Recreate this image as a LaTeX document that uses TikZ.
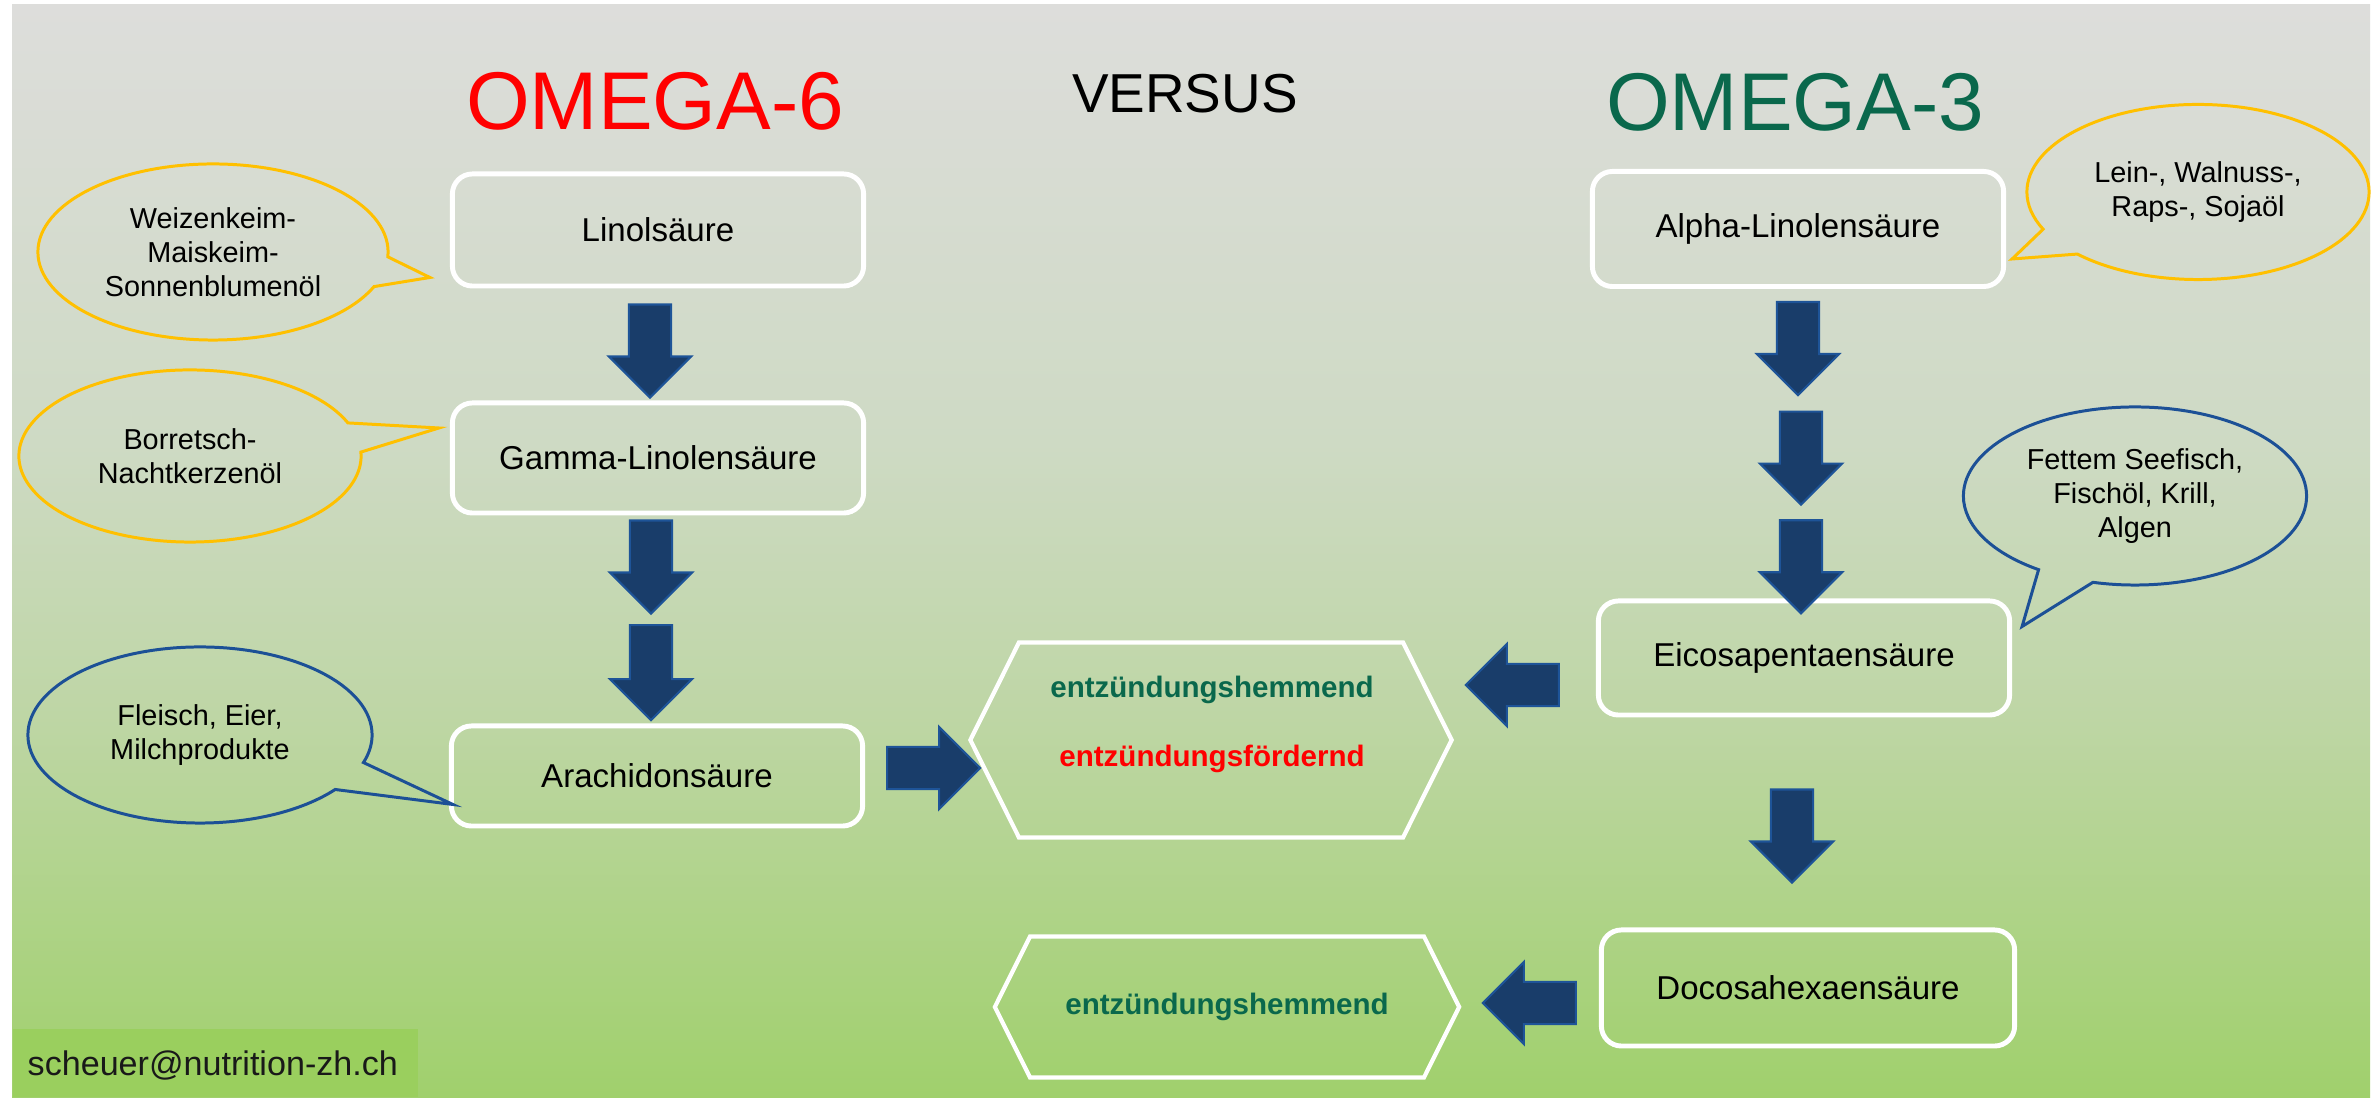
\documentclass[tikz,border=0pt]{standalone}
\usepackage{fontspec}
\setmainfont{Liberation Sans}
\usetikzlibrary{shapes}

\definecolor{omegared}{RGB}{255,0,0}
\definecolor{omegagreen}{RGB}{10,104,76}
\definecolor{arrowfill}{RGB}{25,61,106}
\definecolor{arrowrim}{RGB}{30,84,152}
\definecolor{bubbleyellow}{RGB}{255,192,0}
\definecolor{bubbleblue}{RGB}{28,80,150}
\definecolor{mailgreen}{RGB}{154,207,94}
\pgfdeclareverticalshading{slidebg}{100bp}{rgb(0bp)=(0.627,0.816,0.424); rgb(25bp)=(0.627,0.816,0.424); rgb(42.5bp)=(0.745,0.839,0.647); rgb(55bp)=(0.808,0.855,0.769); rgb(75bp)=(0.867,0.867,0.859); rgb(100bp)=(0.867,0.867,0.859)}

\tikzset{
    acid/.style={rectangle,draw=white,line width=1.4pt,rounded corners=0.2cm,minimum width=4.11cm,minimum height=1.12cm,font=\fontsize{9.4}{11}\selectfont},
    headline/.style={anchor=base,inner sep=0pt,font=\fontsize{23.3}{28}\selectfont},
    source/.style={ellipse callout,line width=0.85pt,inner sep=0pt,minimum width=3.44cm,minimum height=1.76cm,callout pointer arc=20,align=center,font=\fontsize{8.2}{9.7}\selectfont},
    plant/.style={source,draw=bubbleyellow},
    animal/.style={source,draw=bubbleblue},
    blockarrow/.style={single arrow,draw=arrowrim,fill=arrowfill,line width=0.6pt,minimum height=0.93cm,inner sep=0.2cm,single arrow head extend=0.2cm,single arrow tip angle=90,anchor=tail},
    effect/.style={signal,signal to=west and east,signal pointer angle=127,draw=white,line width=1.2pt,inner sep=0pt},
    effecttext/.style={anchor=base,inner sep=0pt,font=\bfseries\fontsize{8.4}{10}\selectfont},
    mailbox/.style={rectangle,fill=mailgreen,anchor=south west,minimum height=0.68cm,text width=3.75cm,align=left,inner xsep=0.15cm,inner ysep=0pt,text depth=0pt,font=\fontsize{9.7}{12}\selectfont,text=black!90},
}

\begin{document}
\begin{tikzpicture}[x=0.01cm,y=-0.01cm]
\useasboundingbox (0,0) rectangle (2374,1098);
\fill[white] (0,0) rectangle (2374,1098);
\shade[shading=slidebg] (12,5) rectangle (2370,1098);

% titles
\node[headline,text=omegared] (o6) at (655,130) {OMEGA-6};
\node[headline,font=\fontsize{15.6}{19}\selectfont] (vs) at (1185,113) {VERSUS};
\node[headline,text=omegagreen] (o3) at (1795,131) {OMEGA-3};

% omega-6 column
\node[acid] (lin) at (658,230) {Linolsäure};
\node[acid,minimum height=1.1cm] (gam) at (658,458) {Gamma-Linolensäure};
\node[acid,minimum height=1.0cm] (ara) at (657,776) {Arachidonsäure};

% omega-3 column
\node[acid,minimum height=1.15cm] (alp) at (1798,229) {Alpha-Linolensäure};
\node[acid,minimum height=1.14cm] (eic) at (1804,658) {Eicosapentaensäure};
\node[acid,minimum height=1.16cm,minimum width=4.13cm] (doc) at (1808,988) {Docosahexaensäure};

% effects
\node[effect,minimum width=4.81cm,minimum height=1.95cm] (eff1) at (1211,740) {};
\node[effecttext,text=omegagreen] (hemm1) at (1212,698) {entzündungshemmend};
\node[effecttext,text=omegared] (foerd) at (1212,767) {entzündungsfördernd};
\node[effect,minimum width=4.64cm,minimum height=1.41cm,text=omegagreen,font=\bfseries\fontsize{8.4}{10}\selectfont] (eff2) at (1227,1007) {entzündungshemmend};

% sources
\node[plant,minimum width=3.5cm,callout absolute pointer={([shift={(-20,-11)}]lin.south west)}] (weiz) at (213,252) {Weizenkeim-\\Maiskeim-\\Sonnenblumenöl};
\node[plant,minimum width=3.42cm,minimum height=1.72cm,callout absolute pointer={([shift={(-11,-30)}]gam.west)}] (borr) at (190,456) {Borretsch-\\Nachtkerzenöl};
\node[animal,callout absolute pointer={([shift={(4,-24)}]ara.south west)}] (fleisch) at (200,735) {Fleisch, Eier,\\Milchprodukte};
\node[plant,minimum width=3.42cm,minimum height=1.75cm,callout absolute pointer={([shift={(6,30)}]alp.east)}] (lein) at (2198,192) {Lein-, Walnuss-,\\Raps-, Sojaöl};
\node[animal,minimum width=3.43cm,minimum height=1.78cm,callout absolute pointer={([shift={(10,28)}]eic.north east)}] (fisch) at (2135,496) {Fettem Seefisch,\\Fischöl, Krill,\\Algen};

% conversion steps
\node[blockarrow,shape border rotate=270] (s1) at ([shift={(-8,15)}]lin.south) {};
\node[blockarrow,shape border rotate=270] (s2) at ([shift={(-7,4)}]gam.south) {};
\node[blockarrow,shape border rotate=270,minimum height=0.95cm] (s3) at ([shift={(0,9)}]s2.tip) {};
\node[blockarrow,shape border rotate=270] (s4) at ([shift={(0,12)}]alp.south) {};
\node[blockarrow,shape border rotate=270] (s5) at ([shift={(3,14)}]s4.tip) {};
\node[blockarrow,shape border rotate=270] (s6) at ([shift={(0,13)}]s5.tip) {};
\node[blockarrow,shape border rotate=270] (s7) at ([shift={(-12,71)}]eic.south) {};
\node[blockarrow] (s8) at ([shift={(21,-8)}]ara.east) {};
\node[blockarrow,shape border rotate=180] (s9) at ([shift={(-36,27)}]eic.west) {};
\node[blockarrow,shape border rotate=180] (s10) at ([shift={(-22,15)}]doc.west) {};

% contact
\node[mailbox] (mail) at (12,1098) {scheuer@nutrition-zh.ch};
\end{tikzpicture}
\end{document}
